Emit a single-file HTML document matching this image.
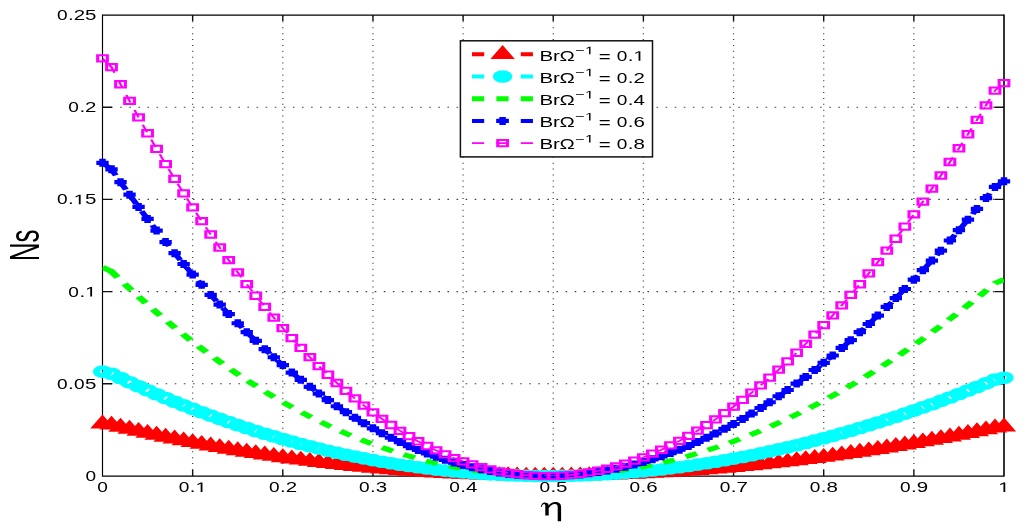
<!DOCTYPE html>
<html><head><meta charset="utf-8"><style>
html,body{margin:0;padding:0;background:#fff;width:1024px;height:531px;overflow:hidden}
svg{display:block;will-change:transform}
text{font-family:"Liberation Sans",sans-serif}
</style></head><body>
<svg width="1024" height="531" viewBox="0 0 1024 531">
<rect width="1024" height="531" fill="#fff"/>
<defs><path id="one" d="M515 0V1237L197 1010V1180L530 1409H696V0Z"/><clipPath id="cp"><rect x="66.43" y="15.00" width="584.25" height="461.00"/></clipPath></defs>
<g stroke="#444"><line x1="192.65" y1="475.40" x2="192.65" y2="15.00" stroke-width="1.3" stroke-dasharray="1 4.89" stroke-dashoffset="-5.39"/><line x1="282.80" y1="475.40" x2="282.80" y2="15.00" stroke-width="1.3" stroke-dasharray="1 4.89" stroke-dashoffset="-5.39"/><line x1="372.95" y1="475.40" x2="372.95" y2="15.00" stroke-width="1.3" stroke-dasharray="1 4.89" stroke-dashoffset="-5.39"/><line x1="463.10" y1="475.40" x2="463.10" y2="15.00" stroke-width="1.3" stroke-dasharray="1 4.89" stroke-dashoffset="-5.39"/><line x1="553.25" y1="475.40" x2="553.25" y2="15.00" stroke-width="1.3" stroke-dasharray="1 4.89" stroke-dashoffset="-5.39"/><line x1="643.40" y1="475.40" x2="643.40" y2="15.00" stroke-width="1.3" stroke-dasharray="1 4.89" stroke-dashoffset="-5.39"/><line x1="733.55" y1="475.40" x2="733.55" y2="15.00" stroke-width="1.3" stroke-dasharray="1 4.89" stroke-dashoffset="-5.39"/><line x1="823.70" y1="475.40" x2="823.70" y2="15.00" stroke-width="1.3" stroke-dasharray="1 4.89" stroke-dashoffset="-5.39"/><line x1="913.85" y1="475.40" x2="913.85" y2="15.00" stroke-width="1.3" stroke-dasharray="1 4.89" stroke-dashoffset="-5.39"/><line x1="102.0" y1="383.80" x2="1004.00" y2="383.80" stroke-width="1.1" stroke-dasharray="1.6 7.49" stroke-dashoffset="-9.09"/><line x1="102.0" y1="291.60" x2="1004.00" y2="291.60" stroke-width="1.1" stroke-dasharray="1.6 7.49" stroke-dashoffset="-9.09"/><line x1="102.0" y1="199.40" x2="1004.00" y2="199.40" stroke-width="1.1" stroke-dasharray="1.6 7.49" stroke-dashoffset="-9.09"/><line x1="102.0" y1="107.20" x2="1004.00" y2="107.20" stroke-width="1.1" stroke-dasharray="1.6 7.49" stroke-dashoffset="-9.09"/></g>
<g><path d="M102.5,15.0H1004.0M102.5,476.0H1004.0" stroke="#000" stroke-width="1.25"/><path d="M102.5,14.4V476.6" stroke="#000" stroke-width="1.15"/><path d="M1004.0,14.4V476.6" stroke="#000" stroke-width="1.6"/><path d="M192.65,476.00V470.00M192.65,15.00V21.00M282.80,476.00V470.00M282.80,15.00V21.00M372.95,476.00V470.00M372.95,15.00V21.00M463.10,476.00V470.00M463.10,15.00V21.00M553.25,476.00V470.00M553.25,15.00V21.00M643.40,476.00V470.00M643.40,15.00V21.00M733.55,476.00V470.00M733.55,15.00V21.00M823.70,476.00V470.00M823.70,15.00V21.00M913.85,476.00V470.00M913.85,15.00V21.00M102.50,383.80H112.00M1004.00,383.80H994.50M102.50,291.60H112.00M1004.00,291.60H994.50M102.50,199.40H112.00M1004.00,199.40H994.50M102.50,107.20H112.00M1004.00,107.20H994.50" stroke="#111" stroke-width="1.4" fill="none"/></g>
<g transform="scale(1.543,1)">
<path d="M66.43,423.81 L72.27,424.89 L78.11,427.03 L83.96,429.12 L89.80,431.16 L95.64,433.15 L101.48,435.10 L107.33,437.00 L113.17,438.86 L119.01,440.67 L124.85,442.43 L130.70,444.14 L136.54,445.81 L142.38,447.44 L148.22,449.01 L154.07,450.54 L159.91,452.03 L165.75,453.47 L171.59,454.86 L177.44,456.21 L183.28,457.51 L189.12,458.77 L194.96,459.98 L200.81,461.14 L206.65,462.26 L212.49,463.34 L218.33,464.37 L224.18,465.36 L230.02,466.30 L235.86,467.20 L241.70,468.05 L247.55,468.86 L253.39,469.63 L259.23,470.35 L265.07,471.02 L270.92,471.66 L276.76,472.25 L282.60,472.79 L288.44,473.30 L294.29,473.76 L300.13,474.17 L305.97,474.55 L311.81,474.88 L317.66,475.17 L323.50,475.41 L329.34,475.62 L335.18,475.78 L341.03,475.90 L346.87,475.97 L352.71,476.01 L358.55,476.00 L364.40,475.95 L370.24,475.86 L376.08,475.73 L381.92,475.56 L387.77,475.34 L393.61,475.09 L399.45,474.80 L405.29,474.46 L411.14,474.08 L416.98,473.67 L422.82,473.21 L428.66,472.72 L434.51,472.18 L440.35,471.61 L446.19,470.99 L452.03,470.34 L457.88,469.64 L463.72,468.91 L469.56,468.14 L475.41,467.33 L481.25,466.48 L487.09,465.60 L492.93,464.67 L498.78,463.71 L504.62,462.71 L510.46,461.67 L516.30,460.59 L522.15,459.48 L527.99,458.33 L533.83,457.14 L539.67,455.92 L545.52,454.66 L551.36,453.36 L557.20,452.03 L563.04,450.66 L568.89,449.26 L574.73,447.82 L580.57,446.34 L586.41,444.83 L592.26,443.28 L598.10,441.70 L603.94,440.09 L609.78,438.44 L615.63,436.75 L621.47,435.03 L627.31,433.28 L633.15,431.50 L639.00,429.68 L644.84,427.82 L650.68,426.88" fill="none" stroke="#ff0000" stroke-width="4.0" stroke-dasharray="7.875 7.875" stroke-dashoffset="8.250" clip-path="url(#cp)"/>
<path d="M66.43,423.81 L72.27,424.89" fill="none" stroke="#ff0000" stroke-width="4.0" clip-path="url(#cp)"/>
<g fill="#ff0000"><path d="M66.43,414.54L74.34,428.44L58.52,428.44Z"/><path d="M72.27,415.63L80.18,429.53L64.36,429.53Z"/><path d="M78.11,417.76L86.02,431.66L70.21,431.66Z"/><path d="M83.96,419.85L91.86,433.75L76.05,433.75Z"/><path d="M89.80,421.89L97.71,435.79L81.89,435.79Z"/><path d="M95.64,423.89L103.55,437.79L87.73,437.79Z"/><path d="M101.48,425.84L109.39,439.74L93.58,439.74Z"/><path d="M107.33,427.74L115.23,441.64L99.42,441.64Z"/><path d="M113.17,429.59L121.08,443.49L105.26,443.49Z"/><path d="M119.01,431.40L126.92,445.30L111.10,445.30Z"/><path d="M124.85,433.16L132.76,447.06L116.95,447.06Z"/><path d="M130.70,434.88L138.60,448.78L122.79,448.78Z"/><path d="M136.54,436.55L144.45,450.45L128.63,450.45Z"/><path d="M142.38,438.17L150.29,452.07L134.48,452.07Z"/><path d="M148.22,439.75L156.13,453.65L140.32,453.65Z"/><path d="M154.07,441.28L161.97,455.18L146.16,455.18Z"/><path d="M159.91,442.76L167.82,456.66L152.00,456.66Z"/><path d="M165.75,444.20L173.66,458.10L157.85,458.10Z"/><path d="M171.59,445.59L179.50,459.49L163.69,459.49Z"/><path d="M177.44,446.94L185.34,460.84L169.53,460.84Z"/><path d="M183.28,448.24L191.19,462.14L175.37,462.14Z"/><path d="M189.12,449.50L197.03,463.40L181.22,463.40Z"/><path d="M194.96,450.71L202.87,464.61L187.06,464.61Z"/><path d="M200.81,451.88L208.71,465.78L192.90,465.78Z"/><path d="M206.65,453.00L214.56,466.90L198.74,466.90Z"/><path d="M212.49,454.07L220.40,467.97L204.59,467.97Z"/><path d="M218.33,455.11L226.24,469.01L210.43,469.01Z"/><path d="M224.18,456.09L232.08,469.99L216.27,469.99Z"/><path d="M230.02,457.03L237.93,470.93L222.11,470.93Z"/><path d="M235.86,457.93L243.77,471.83L227.96,471.83Z"/><path d="M241.70,458.79L249.61,472.69L233.80,472.69Z"/><path d="M247.55,459.60L255.45,473.50L239.64,473.50Z"/><path d="M253.39,460.36L261.30,474.26L245.48,474.26Z"/><path d="M259.23,461.08L267.14,474.98L251.33,474.98Z"/><path d="M265.07,461.76L272.98,475.66L257.17,475.66Z"/><path d="M270.92,462.39L278.82,476.29L263.01,476.29Z"/><path d="M276.76,462.98L284.67,476.88L268.85,476.88Z"/><path d="M282.60,463.53L290.51,477.43L274.70,477.43Z"/><path d="M288.44,464.03L296.35,477.93L280.54,477.93Z"/><path d="M294.29,464.49L302.19,478.39L286.38,478.39Z"/><path d="M300.13,464.91L308.04,478.81L292.22,478.81Z"/><path d="M305.97,465.28L313.88,479.18L298.07,479.18Z"/><path d="M311.81,465.61L319.72,479.51L303.91,479.51Z"/><path d="M317.66,465.90L325.56,479.80L309.75,479.80Z"/><path d="M323.50,466.15L331.41,480.05L315.59,480.05Z"/><path d="M329.34,466.35L337.25,480.25L321.44,480.25Z"/><path d="M335.18,466.51L343.09,480.41L327.28,480.41Z"/><path d="M341.03,466.63L348.93,480.53L333.12,480.53Z"/><path d="M346.87,466.71L354.78,480.61L338.96,480.61Z"/><path d="M352.71,466.74L360.62,480.64L344.81,480.64Z"/><path d="M358.55,466.73L366.46,480.63L350.65,480.63Z"/><path d="M364.40,466.68L372.30,480.58L356.49,480.58Z"/><path d="M370.24,466.60L378.15,480.50L362.33,480.50Z"/><path d="M376.08,466.46L383.99,480.36L368.18,480.36Z"/><path d="M381.92,466.29L389.83,480.19L374.02,480.19Z"/><path d="M387.77,466.08L395.67,479.98L379.86,479.98Z"/><path d="M393.61,465.82L401.52,479.72L385.70,479.72Z"/><path d="M399.45,465.53L407.36,479.43L391.55,479.43Z"/><path d="M405.29,465.19L413.20,479.09L397.39,479.09Z"/><path d="M411.14,464.82L419.04,478.72L403.23,478.72Z"/><path d="M416.98,464.40L424.89,478.30L409.07,478.30Z"/><path d="M422.82,463.95L430.73,477.85L414.92,477.85Z"/><path d="M428.66,463.45L436.57,477.35L420.76,477.35Z"/><path d="M434.51,462.91L442.41,476.81L426.60,476.81Z"/><path d="M440.35,462.34L448.26,476.24L432.44,476.24Z"/><path d="M446.19,461.72L454.10,475.62L438.29,475.62Z"/><path d="M452.03,461.07L459.94,474.97L444.13,474.97Z"/><path d="M457.88,460.38L465.78,474.28L449.97,474.28Z"/><path d="M463.72,459.64L471.63,473.54L455.81,473.54Z"/><path d="M469.56,458.87L477.47,472.77L461.66,472.77Z"/><path d="M475.41,458.06L483.31,471.96L467.50,471.96Z"/><path d="M481.25,457.21L489.15,471.11L473.34,471.11Z"/><path d="M487.09,456.33L495.00,470.23L479.18,470.23Z"/><path d="M492.93,455.40L500.84,469.30L485.03,469.30Z"/><path d="M498.78,454.44L506.68,468.34L490.87,468.34Z"/><path d="M504.62,453.44L512.52,467.34L496.71,467.34Z"/><path d="M510.46,452.40L518.37,466.30L502.55,466.30Z"/><path d="M516.30,451.33L524.21,465.23L508.40,465.23Z"/><path d="M522.15,450.21L530.05,464.11L514.24,464.11Z"/><path d="M527.99,449.06L535.89,462.96L520.08,462.96Z"/><path d="M533.83,447.88L541.74,461.78L525.92,461.78Z"/><path d="M539.67,446.65L547.58,460.55L531.77,460.55Z"/><path d="M545.52,445.39L553.42,459.29L537.61,459.29Z"/><path d="M551.36,444.10L559.26,458.00L543.45,458.00Z"/><path d="M557.20,442.76L565.11,456.66L549.29,456.66Z"/><path d="M563.04,441.40L570.95,455.30L555.14,455.30Z"/><path d="M568.89,439.99L576.79,453.89L560.98,453.89Z"/><path d="M574.73,438.55L582.63,452.45L566.82,452.45Z"/><path d="M580.57,437.08L588.48,450.98L572.66,450.98Z"/><path d="M586.41,435.56L594.32,449.46L578.51,449.46Z"/><path d="M592.26,434.02L600.16,447.92L584.35,447.92Z"/><path d="M598.10,432.44L606.00,446.34L590.19,446.34Z"/><path d="M603.94,430.82L611.85,444.72L596.03,444.72Z"/><path d="M609.78,429.17L617.69,443.07L601.88,443.07Z"/><path d="M615.63,427.49L623.53,441.39L607.72,441.39Z"/><path d="M621.47,425.77L629.37,439.67L613.56,439.67Z"/><path d="M627.31,424.02L635.22,437.92L619.40,437.92Z"/><path d="M633.15,422.23L641.06,436.13L625.25,436.13Z"/><path d="M639.00,420.41L646.90,434.31L631.09,434.31Z"/><path d="M644.84,418.56L652.74,432.46L636.93,432.46Z"/><path d="M650.68,417.62L658.59,431.52L642.77,431.52Z"/></g>
<path d="M66.43,371.61 L72.27,373.78 L78.11,378.06 L83.96,382.24 L89.80,386.32 L95.64,390.31 L101.48,394.21 L107.33,398.01 L113.17,401.72 L119.01,405.34 L124.85,408.86 L130.70,412.29 L136.54,415.63 L142.38,418.87 L148.22,422.03 L154.07,425.09 L159.91,428.06 L165.75,430.93 L171.59,433.72 L177.44,436.41 L183.28,439.02 L189.12,441.53 L194.96,443.95 L200.81,446.29 L206.65,448.53 L212.49,450.68 L218.33,452.75 L224.18,454.72 L230.02,456.60 L235.86,458.40 L241.70,460.11 L247.55,461.72 L253.39,463.25 L259.23,464.70 L265.07,466.05 L270.92,467.32 L276.76,468.50 L282.60,469.59 L288.44,470.60 L294.29,471.51 L300.13,472.35 L305.97,473.10 L311.81,473.76 L317.66,474.33 L323.50,474.82 L329.34,475.23 L335.18,475.55 L341.03,475.79 L346.87,475.94 L352.71,476.01 L358.55,476.00 L364.40,475.90 L370.24,475.72 L376.08,475.46 L381.92,475.12 L387.77,474.69 L393.61,474.18 L399.45,473.59 L405.29,472.92 L411.14,472.17 L416.98,471.34 L422.82,470.43 L428.66,469.43 L434.51,468.36 L440.35,467.21 L446.19,465.98 L452.03,464.67 L457.88,463.29 L463.72,461.82 L469.56,460.28 L475.41,458.66 L481.25,456.96 L487.09,455.19 L492.93,453.34 L498.78,451.42 L504.62,449.41 L510.46,447.34 L516.30,445.19 L522.15,442.96 L527.99,440.66 L533.83,438.29 L539.67,435.84 L545.52,433.32 L551.36,430.73 L557.20,428.06 L563.04,425.33 L568.89,422.52 L574.73,419.64 L580.57,416.68 L586.41,413.66 L592.26,410.57 L598.10,407.41 L603.94,404.18 L609.78,400.88 L615.63,397.51 L621.47,394.07 L627.31,390.56 L633.15,386.99 L639.00,383.35 L644.84,379.64 L650.68,377.77" fill="none" stroke="#00ffff" stroke-width="4.0" stroke-dasharray="7.875 7.875" stroke-dashoffset="8.250" clip-path="url(#cp)"/>
<path d="M66.43,371.61 L72.27,373.78" fill="none" stroke="#00ffff" stroke-width="4.0" clip-path="url(#cp)"/>
<g fill="none" stroke="#00ffff" stroke-width="4.6"><circle cx="66.43" cy="371.61" r="4.0"/><circle cx="72.27" cy="373.78" r="4.0"/><circle cx="78.11" cy="378.06" r="4.0"/><circle cx="83.96" cy="382.24" r="4.0"/><circle cx="89.80" cy="386.32" r="4.0"/><circle cx="95.64" cy="390.31" r="4.0"/><circle cx="101.48" cy="394.21" r="4.0"/><circle cx="107.33" cy="398.01" r="4.0"/><circle cx="113.17" cy="401.72" r="4.0"/><circle cx="119.01" cy="405.34" r="4.0"/><circle cx="124.85" cy="408.86" r="4.0"/><circle cx="130.70" cy="412.29" r="4.0"/><circle cx="136.54" cy="415.63" r="4.0"/><circle cx="142.38" cy="418.87" r="4.0"/><circle cx="148.22" cy="422.03" r="4.0"/><circle cx="154.07" cy="425.09" r="4.0"/><circle cx="159.91" cy="428.06" r="4.0"/><circle cx="165.75" cy="430.93" r="4.0"/><circle cx="171.59" cy="433.72" r="4.0"/><circle cx="177.44" cy="436.41" r="4.0"/><circle cx="183.28" cy="439.02" r="4.0"/><circle cx="189.12" cy="441.53" r="4.0"/><circle cx="194.96" cy="443.95" r="4.0"/><circle cx="200.81" cy="446.29" r="4.0"/><circle cx="206.65" cy="448.53" r="4.0"/><circle cx="212.49" cy="450.68" r="4.0"/><circle cx="218.33" cy="452.75" r="4.0"/><circle cx="224.18" cy="454.72" r="4.0"/><circle cx="230.02" cy="456.60" r="4.0"/><circle cx="235.86" cy="458.40" r="4.0"/><circle cx="241.70" cy="460.11" r="4.0"/><circle cx="247.55" cy="461.72" r="4.0"/><circle cx="253.39" cy="463.25" r="4.0"/><circle cx="259.23" cy="464.70" r="4.0"/><circle cx="265.07" cy="466.05" r="4.0"/><circle cx="270.92" cy="467.32" r="4.0"/><circle cx="276.76" cy="468.50" r="4.0"/><circle cx="282.60" cy="469.59" r="4.0"/><circle cx="288.44" cy="470.60" r="4.0"/><circle cx="294.29" cy="471.51" r="4.0"/><circle cx="300.13" cy="472.35" r="4.0"/><circle cx="305.97" cy="473.10" r="4.0"/><circle cx="311.81" cy="473.76" r="4.0"/><circle cx="317.66" cy="474.33" r="4.0"/><circle cx="323.50" cy="474.82" r="4.0"/><circle cx="329.34" cy="475.23" r="4.0"/><circle cx="335.18" cy="475.55" r="4.0"/><circle cx="341.03" cy="475.79" r="4.0"/><circle cx="346.87" cy="475.94" r="4.0"/><circle cx="352.71" cy="476.01" r="4.0"/><circle cx="358.55" cy="476.00" r="4.0"/><circle cx="364.40" cy="475.90" r="4.0"/><circle cx="370.24" cy="475.72" r="4.0"/><circle cx="376.08" cy="475.46" r="4.0"/><circle cx="381.92" cy="475.12" r="4.0"/><circle cx="387.77" cy="474.69" r="4.0"/><circle cx="393.61" cy="474.18" r="4.0"/><circle cx="399.45" cy="473.59" r="4.0"/><circle cx="405.29" cy="472.92" r="4.0"/><circle cx="411.14" cy="472.17" r="4.0"/><circle cx="416.98" cy="471.34" r="4.0"/><circle cx="422.82" cy="470.43" r="4.0"/><circle cx="428.66" cy="469.43" r="4.0"/><circle cx="434.51" cy="468.36" r="4.0"/><circle cx="440.35" cy="467.21" r="4.0"/><circle cx="446.19" cy="465.98" r="4.0"/><circle cx="452.03" cy="464.67" r="4.0"/><circle cx="457.88" cy="463.29" r="4.0"/><circle cx="463.72" cy="461.82" r="4.0"/><circle cx="469.56" cy="460.28" r="4.0"/><circle cx="475.41" cy="458.66" r="4.0"/><circle cx="481.25" cy="456.96" r="4.0"/><circle cx="487.09" cy="455.19" r="4.0"/><circle cx="492.93" cy="453.34" r="4.0"/><circle cx="498.78" cy="451.42" r="4.0"/><circle cx="504.62" cy="449.41" r="4.0"/><circle cx="510.46" cy="447.34" r="4.0"/><circle cx="516.30" cy="445.19" r="4.0"/><circle cx="522.15" cy="442.96" r="4.0"/><circle cx="527.99" cy="440.66" r="4.0"/><circle cx="533.83" cy="438.29" r="4.0"/><circle cx="539.67" cy="435.84" r="4.0"/><circle cx="545.52" cy="433.32" r="4.0"/><circle cx="551.36" cy="430.73" r="4.0"/><circle cx="557.20" cy="428.06" r="4.0"/><circle cx="563.04" cy="425.33" r="4.0"/><circle cx="568.89" cy="422.52" r="4.0"/><circle cx="574.73" cy="419.64" r="4.0"/><circle cx="580.57" cy="416.68" r="4.0"/><circle cx="586.41" cy="413.66" r="4.0"/><circle cx="592.26" cy="410.57" r="4.0"/><circle cx="598.10" cy="407.41" r="4.0"/><circle cx="603.94" cy="404.18" r="4.0"/><circle cx="609.78" cy="400.88" r="4.0"/><circle cx="615.63" cy="397.51" r="4.0"/><circle cx="621.47" cy="394.07" r="4.0"/><circle cx="627.31" cy="390.56" r="4.0"/><circle cx="633.15" cy="386.99" r="4.0"/><circle cx="639.00" cy="383.35" r="4.0"/><circle cx="644.84" cy="379.64" r="4.0"/><circle cx="650.68" cy="377.77" r="4.0"/></g>
<path d="M66.43,267.22 L72.27,271.57 L78.11,280.11 L83.96,288.47 L89.80,296.64 L95.64,304.62 L101.48,312.41 L107.33,320.02 L113.17,327.44 L119.01,334.67 L124.85,341.72 L130.70,348.58 L136.54,355.25 L142.38,361.74 L148.22,368.05 L154.07,374.17 L159.91,380.11 L165.75,385.87 L171.59,391.44 L177.44,396.83 L183.28,402.04 L189.12,407.06 L194.96,411.91 L200.81,416.57 L206.65,421.06 L212.49,425.36 L218.33,429.49 L224.18,433.44 L230.02,437.21 L235.86,440.80 L241.70,444.21 L247.55,447.45 L253.39,450.51 L259.23,453.39 L265.07,456.10 L270.92,458.63 L276.76,460.99 L282.60,463.18 L288.44,465.19 L294.29,467.03 L300.13,468.70 L305.97,470.19 L311.81,471.51 L317.66,472.67 L323.50,473.65 L329.34,474.46 L335.18,475.11 L341.03,475.58 L346.87,475.89 L352.71,476.03 L358.55,476.00 L364.40,475.81 L370.24,475.45 L376.08,474.92 L381.92,474.23 L387.77,473.38 L393.61,472.36 L399.45,471.18 L405.29,469.84 L411.14,468.34 L416.98,466.67 L422.82,464.85 L428.66,462.87 L434.51,460.72 L440.35,458.42 L446.19,455.96 L452.03,453.34 L457.88,450.57 L463.72,447.64 L469.56,444.56 L475.41,441.32 L481.25,437.93 L487.09,434.38 L492.93,430.68 L498.78,426.83 L504.62,422.83 L510.46,418.68 L516.30,414.38 L522.15,409.92 L527.99,405.32 L533.83,400.58 L539.67,395.68 L545.52,390.64 L551.36,385.46 L557.20,380.13 L563.04,374.65 L568.89,369.03 L574.73,363.27 L580.57,357.37 L586.41,351.32 L592.26,345.14 L598.10,338.82 L603.94,332.35 L609.78,325.75 L615.63,319.01 L621.47,312.14 L627.31,305.13 L633.15,297.98 L639.00,290.70 L644.84,283.29 L650.68,279.53" fill="none" stroke="#00ff00" stroke-width="4.9" stroke-dasharray="7.862 7.862" stroke-dashoffset="9.325" clip-path="url(#cp)"/>
<path d="M66.43,267.22 L72.27,271.57" fill="none" stroke="#00ff00" stroke-width="4.9" clip-path="url(#cp)"/>
<path d="M66.43,162.84 L72.27,169.35 L78.11,182.17 L83.96,194.71 L89.80,206.96 L95.64,218.93 L101.48,230.62 L107.33,242.03 L113.17,253.16 L119.01,264.01 L124.85,274.58 L130.70,284.87 L136.54,294.88 L142.38,304.62 L148.22,314.08 L154.07,323.26 L159.91,332.17 L165.75,340.80 L171.59,349.16 L177.44,357.24 L183.28,365.06 L189.12,372.60 L194.96,379.86 L200.81,386.86 L206.65,393.59 L212.49,400.05 L218.33,406.24 L224.18,412.16 L230.02,417.81 L235.86,423.20 L241.70,428.32 L247.55,433.17 L253.39,437.76 L259.23,442.09 L265.07,446.15 L270.92,449.95 L276.76,453.49 L282.60,456.77 L288.44,459.79 L294.29,462.54 L300.13,465.04 L305.97,467.29 L311.81,469.27 L317.66,471.00 L323.50,472.47 L329.34,473.69 L335.18,474.66 L341.03,475.37 L346.87,475.83 L352.71,476.04 L358.55,476.00 L364.40,475.71 L370.24,475.17 L376.08,474.38 L381.92,473.35 L387.77,472.07 L393.61,470.54 L399.45,468.78 L405.29,466.76 L411.14,464.51 L416.98,462.01 L422.82,459.28 L428.66,456.30 L434.51,453.08 L440.35,449.63 L446.19,445.94 L452.03,442.02 L457.88,437.86 L463.72,433.46 L469.56,428.84 L475.41,423.98 L481.25,418.89 L487.09,413.57 L492.93,408.02 L498.78,402.25 L504.62,396.24 L510.46,390.02 L516.30,383.56 L522.15,376.89 L527.99,369.99 L533.83,362.87 L539.67,355.52 L545.52,347.96 L551.36,340.18 L557.20,332.19 L563.04,323.98 L568.89,315.55 L574.73,306.91 L580.57,298.05 L586.41,288.99 L592.26,279.71 L598.10,270.22 L603.94,260.53 L609.78,250.63 L615.63,240.52 L621.47,230.21 L627.31,219.69 L633.15,208.97 L639.00,198.05 L644.84,186.93 L650.68,181.30" fill="none" stroke="#0000ff" stroke-width="4.0" stroke-dasharray="7.875 7.875" stroke-dashoffset="8.250" clip-path="url(#cp)"/>
<path d="M66.43,162.84 L72.27,169.35" fill="none" stroke="#0000ff" stroke-width="4.0" clip-path="url(#cp)"/>
<path fill="none" stroke="#0000ff" stroke-width="4.2" d="M62.43,162.84H70.43M66.43,158.84V166.84M68.27,169.35H76.27M72.27,165.35V173.35M74.11,182.17H82.11M78.11,178.17V186.17M79.96,194.71H87.96M83.96,190.71V198.71M85.80,206.96H93.80M89.80,202.96V210.96M91.64,218.93H99.64M95.64,214.93V222.93M97.48,230.62H105.48M101.48,226.62V234.62M103.33,242.03H111.33M107.33,238.03V246.03M109.17,253.16H117.17M113.17,249.16V257.16M115.01,264.01H123.01M119.01,260.01V268.01M120.85,274.58H128.85M124.85,270.58V278.58M126.70,284.87H134.70M130.70,280.87V288.87M132.54,294.88H140.54M136.54,290.88V298.88M138.38,304.62H146.38M142.38,300.62V308.62M144.22,314.08H152.22M148.22,310.08V318.08M150.07,323.26H158.07M154.07,319.26V327.26M155.91,332.17H163.91M159.91,328.17V336.17M161.75,340.80H169.75M165.75,336.80V344.80M167.59,349.16H175.59M171.59,345.16V353.16M173.44,357.24H181.44M177.44,353.24V361.24M179.28,365.06H187.28M183.28,361.06V369.06M185.12,372.60H193.12M189.12,368.60V376.60M190.96,379.86H198.96M194.96,375.86V383.86M196.81,386.86H204.81M200.81,382.86V390.86M202.65,393.59H210.65M206.65,389.59V397.59M208.49,400.05H216.49M212.49,396.05V404.05M214.33,406.24H222.33M218.33,402.24V410.24M220.18,412.16H228.18M224.18,408.16V416.16M226.02,417.81H234.02M230.02,413.81V421.81M231.86,423.20H239.86M235.86,419.20V427.20M237.70,428.32H245.70M241.70,424.32V432.32M243.55,433.17H251.55M247.55,429.17V437.17M249.39,437.76H257.39M253.39,433.76V441.76M255.23,442.09H263.23M259.23,438.09V446.09M261.07,446.15H269.07M265.07,442.15V450.15M266.92,449.95H274.92M270.92,445.95V453.95M272.76,453.49H280.76M276.76,449.49V457.49M278.60,456.77H286.60M282.60,452.77V460.77M284.44,459.79H292.44M288.44,455.79V463.79M290.29,462.54H298.29M294.29,458.54V466.54M296.13,465.04H304.13M300.13,461.04V469.04M301.97,467.29H309.97M305.97,463.29V471.29M307.81,469.27H315.81M311.81,465.27V473.27M313.66,471.00H321.66M317.66,467.00V475.00M319.50,472.47H327.50M323.50,468.47V476.47M325.34,473.69H333.34M329.34,469.69V477.69M331.18,474.66H339.18M335.18,470.66V478.66M337.03,475.37H345.03M341.03,471.37V479.37M342.87,475.83H350.87M346.87,471.83V479.83M348.71,476.04H356.71M352.71,472.04V480.04M354.55,476.00H362.55M358.55,472.00V480.00M360.40,475.71H368.40M364.40,471.71V479.71M366.24,475.17H374.24M370.24,471.17V479.17M372.08,474.38H380.08M376.08,470.38V478.38M377.92,473.35H385.92M381.92,469.35V477.35M383.77,472.07H391.77M387.77,468.07V476.07M389.61,470.54H397.61M393.61,466.54V474.54M395.45,468.78H403.45M399.45,464.78V472.78M401.29,466.76H409.29M405.29,462.76V470.76M407.14,464.51H415.14M411.14,460.51V468.51M412.98,462.01H420.98M416.98,458.01V466.01M418.82,459.28H426.82M422.82,455.28V463.28M424.66,456.30H432.66M428.66,452.30V460.30M430.51,453.08H438.51M434.51,449.08V457.08M436.35,449.63H444.35M440.35,445.63V453.63M442.19,445.94H450.19M446.19,441.94V449.94M448.03,442.02H456.03M452.03,438.02V446.02M453.88,437.86H461.88M457.88,433.86V441.86M459.72,433.46H467.72M463.72,429.46V437.46M465.56,428.84H473.56M469.56,424.84V432.84M471.41,423.98H479.41M475.41,419.98V427.98M477.25,418.89H485.25M481.25,414.89V422.89M483.09,413.57H491.09M487.09,409.57V417.57M488.93,408.02H496.93M492.93,404.02V412.02M494.78,402.25H502.78M498.78,398.25V406.25M500.62,396.24H508.62M504.62,392.24V400.24M506.46,390.02H514.46M510.46,386.02V394.02M512.30,383.56H520.30M516.30,379.56V387.56M518.15,376.89H526.15M522.15,372.89V380.89M523.99,369.99H531.99M527.99,365.99V373.99M529.83,362.87H537.83M533.83,358.87V366.87M535.67,355.52H543.67M539.67,351.52V359.52M541.52,347.96H549.52M545.52,343.96V351.96M547.36,340.18H555.36M551.36,336.18V344.18M553.20,332.19H561.20M557.20,328.19V336.19M559.04,323.98H567.04M563.04,319.98V327.98M564.89,315.55H572.89M568.89,311.55V319.55M570.73,306.91H578.73M574.73,302.91V310.91M576.57,298.05H584.57M580.57,294.05V302.05M582.41,288.99H590.41M586.41,284.99V292.99M588.26,279.71H596.26M592.26,275.71V283.71M594.10,270.22H602.10M598.10,266.22V274.22M599.94,260.53H607.94M603.94,256.53V264.53M605.78,250.63H613.78M609.78,246.63V254.63M611.63,240.52H619.63M615.63,236.52V244.52M617.47,230.21H625.47M621.47,226.21V234.21M623.31,219.69H631.31M627.31,215.69V223.69M629.15,208.97H637.15M633.15,204.97V212.97M635.00,198.05H643.00M639.00,194.05V202.05M640.84,186.93H648.84M644.84,182.93V190.93M646.68,181.30H654.68M650.68,177.30V185.30"/>
<path d="M66.43,58.45 L72.27,67.14 L78.11,84.23 L83.96,100.94 L89.80,117.28 L95.64,133.24 L101.48,148.83 L107.33,164.04 L113.17,178.87 L119.01,193.34 L124.85,207.43 L130.70,221.16 L136.54,234.51 L142.38,247.49 L148.22,260.10 L154.07,272.35 L159.91,284.22 L165.75,295.73 L171.59,306.88 L177.44,317.66 L183.28,328.08 L189.12,338.13 L194.96,347.82 L200.81,357.15 L206.65,366.12 L212.49,374.73 L218.33,382.98 L224.18,390.88 L230.02,398.41 L235.86,405.59 L241.70,412.42 L247.55,418.89 L253.39,425.01 L259.23,430.78 L265.07,436.20 L270.92,441.27 L276.76,445.99 L282.60,450.36 L288.44,454.38 L294.29,458.06 L300.13,461.39 L305.97,464.38 L311.81,467.03 L317.66,469.33 L323.50,471.30 L329.34,472.92 L335.18,474.21 L341.03,475.16 L346.87,475.78 L352.71,476.05 L358.55,476.00 L364.40,475.61 L370.24,474.89 L376.08,473.84 L381.92,472.47 L387.77,470.76 L393.61,468.73 L399.45,466.37 L405.29,463.68 L411.14,460.68 L416.98,457.35 L422.82,453.70 L428.66,449.73 L434.51,445.45 L440.35,440.84 L446.19,435.92 L452.03,430.69 L457.88,425.14 L463.72,419.29 L469.56,413.12 L475.41,406.64 L481.25,399.85 L487.09,392.76 L492.93,385.36 L498.78,377.66 L504.62,369.66 L510.46,361.35 L516.30,352.75 L522.15,343.85 L527.99,334.65 L533.83,325.15 L539.67,315.37 L545.52,305.28 L551.36,294.91 L557.20,284.25 L563.04,273.30 L568.89,262.06 L574.73,250.54 L580.57,238.74 L586.41,226.65 L592.26,214.28 L598.10,201.63 L603.94,188.70 L609.78,175.50 L615.63,162.02 L621.47,148.27 L627.31,134.25 L633.15,119.96 L639.00,105.40 L644.84,90.58 L650.68,83.06" fill="none" stroke="#ff00ff" stroke-width="1.6" stroke-dasharray="7.884 7.884" stroke-dashoffset="7.268" clip-path="url(#cp)"/>
<path d="M66.43,58.45 L72.27,67.14" fill="none" stroke="#ff00ff" stroke-width="1.6" clip-path="url(#cp)"/>
<path fill="none" stroke="#ff00ff" stroke-width="2.0" d="M63.28,55.30h6.3v6.3h-6.3zM69.12,63.99h6.3v6.3h-6.3zM74.96,81.08h6.3v6.3h-6.3zM80.81,97.79h6.3v6.3h-6.3zM86.65,114.13h6.3v6.3h-6.3zM92.49,130.09h6.3v6.3h-6.3zM98.33,145.68h6.3v6.3h-6.3zM104.18,160.89h6.3v6.3h-6.3zM110.02,175.72h6.3v6.3h-6.3zM115.86,190.19h6.3v6.3h-6.3zM121.70,204.28h6.3v6.3h-6.3zM127.55,218.01h6.3v6.3h-6.3zM133.39,231.36h6.3v6.3h-6.3zM139.23,244.34h6.3v6.3h-6.3zM145.07,256.95h6.3v6.3h-6.3zM150.92,269.20h6.3v6.3h-6.3zM156.76,281.07h6.3v6.3h-6.3zM162.60,292.58h6.3v6.3h-6.3zM168.44,303.73h6.3v6.3h-6.3zM174.29,314.51h6.3v6.3h-6.3zM180.13,324.93h6.3v6.3h-6.3zM185.97,334.98h6.3v6.3h-6.3zM191.81,344.67h6.3v6.3h-6.3zM197.66,354.00h6.3v6.3h-6.3zM203.50,362.97h6.3v6.3h-6.3zM209.34,371.58h6.3v6.3h-6.3zM215.18,379.83h6.3v6.3h-6.3zM221.03,387.73h6.3v6.3h-6.3zM226.87,395.26h6.3v6.3h-6.3zM232.71,402.44h6.3v6.3h-6.3zM238.55,409.27h6.3v6.3h-6.3zM244.40,415.74h6.3v6.3h-6.3zM250.24,421.86h6.3v6.3h-6.3zM256.08,427.63h6.3v6.3h-6.3zM261.92,433.05h6.3v6.3h-6.3zM267.77,438.12h6.3v6.3h-6.3zM273.61,442.84h6.3v6.3h-6.3zM279.45,447.21h6.3v6.3h-6.3zM285.29,451.23h6.3v6.3h-6.3zM291.14,454.91h6.3v6.3h-6.3zM296.98,458.24h6.3v6.3h-6.3zM302.82,461.23h6.3v6.3h-6.3zM308.66,463.88h6.3v6.3h-6.3zM314.51,466.18h6.3v6.3h-6.3zM320.35,468.15h6.3v6.3h-6.3zM326.19,469.77h6.3v6.3h-6.3zM332.03,471.06h6.3v6.3h-6.3zM337.88,472.01h6.3v6.3h-6.3zM343.72,472.63h6.3v6.3h-6.3zM349.56,472.90h6.3v6.3h-6.3zM355.40,472.85h6.3v6.3h-6.3zM361.25,472.46h6.3v6.3h-6.3zM367.09,471.74h6.3v6.3h-6.3zM372.93,470.69h6.3v6.3h-6.3zM378.77,469.32h6.3v6.3h-6.3zM384.62,467.61h6.3v6.3h-6.3zM390.46,465.58h6.3v6.3h-6.3zM396.30,463.22h6.3v6.3h-6.3zM402.14,460.53h6.3v6.3h-6.3zM407.99,457.53h6.3v6.3h-6.3zM413.83,454.20h6.3v6.3h-6.3zM419.67,450.55h6.3v6.3h-6.3zM425.51,446.58h6.3v6.3h-6.3zM431.36,442.30h6.3v6.3h-6.3zM437.20,437.69h6.3v6.3h-6.3zM443.04,432.77h6.3v6.3h-6.3zM448.88,427.54h6.3v6.3h-6.3zM454.73,421.99h6.3v6.3h-6.3zM460.57,416.14h6.3v6.3h-6.3zM466.41,409.97h6.3v6.3h-6.3zM472.26,403.49h6.3v6.3h-6.3zM478.10,396.70h6.3v6.3h-6.3zM483.94,389.61h6.3v6.3h-6.3zM489.78,382.21h6.3v6.3h-6.3zM495.63,374.51h6.3v6.3h-6.3zM501.47,366.51h6.3v6.3h-6.3zM507.31,358.20h6.3v6.3h-6.3zM513.15,349.60h6.3v6.3h-6.3zM519.00,340.70h6.3v6.3h-6.3zM524.84,331.50h6.3v6.3h-6.3zM530.68,322.00h6.3v6.3h-6.3zM536.52,312.22h6.3v6.3h-6.3zM542.37,302.13h6.3v6.3h-6.3zM548.21,291.76h6.3v6.3h-6.3zM554.05,281.10h6.3v6.3h-6.3zM559.89,270.15h6.3v6.3h-6.3zM565.74,258.91h6.3v6.3h-6.3zM571.58,247.39h6.3v6.3h-6.3zM577.42,235.59h6.3v6.3h-6.3zM583.26,223.50h6.3v6.3h-6.3zM589.11,211.13h6.3v6.3h-6.3zM594.95,198.48h6.3v6.3h-6.3zM600.79,185.55h6.3v6.3h-6.3zM606.63,172.35h6.3v6.3h-6.3zM612.48,158.87h6.3v6.3h-6.3zM618.32,145.12h6.3v6.3h-6.3zM624.16,131.10h6.3v6.3h-6.3zM630.00,116.81h6.3v6.3h-6.3zM635.85,102.25h6.3v6.3h-6.3zM641.69,87.43h6.3v6.3h-6.3zM647.53,79.91h6.3v6.3h-6.3z"/>
</g>
<g fill="#000"><text transform="translate(97.19,492.00) scale(1.3829,1)" font-size="13.8">0</text><text transform="translate(178.79,492.00) scale(1.3829,1)" font-size="13.8">0</text><text transform="translate(189.80,492.00) scale(1.4870,1)" font-size="13.8">.</text><use href="#one" transform="translate(195.50,492.00) scale(0.01002,-0.00674)"/><text transform="translate(268.94,492.00) scale(1.3829,1)" font-size="13.8">0</text><text transform="translate(279.95,492.00) scale(1.4870,1)" font-size="13.8">.</text><text transform="translate(285.65,492.00) scale(1.4870,1)" font-size="13.8">2</text><text transform="translate(359.09,492.00) scale(1.3829,1)" font-size="13.8">0</text><text transform="translate(370.10,492.00) scale(1.4870,1)" font-size="13.8">.</text><text transform="translate(375.80,492.00) scale(1.4870,1)" font-size="13.8">3</text><text transform="translate(449.24,492.00) scale(1.3829,1)" font-size="13.8">0</text><text transform="translate(460.25,492.00) scale(1.4870,1)" font-size="13.8">.</text><text transform="translate(465.95,492.00) scale(1.4870,1)" font-size="13.8">4</text><text transform="translate(539.39,492.00) scale(1.3829,1)" font-size="13.8">0</text><text transform="translate(550.40,492.00) scale(1.4870,1)" font-size="13.8">.</text><text transform="translate(556.10,492.00) scale(1.4870,1)" font-size="13.8">5</text><text transform="translate(629.54,492.00) scale(1.3829,1)" font-size="13.8">0</text><text transform="translate(640.55,492.00) scale(1.4870,1)" font-size="13.8">.</text><text transform="translate(646.25,492.00) scale(1.4870,1)" font-size="13.8">6</text><text transform="translate(719.69,492.00) scale(1.3829,1)" font-size="13.8">0</text><text transform="translate(730.70,492.00) scale(1.4870,1)" font-size="13.8">.</text><text transform="translate(736.40,492.00) scale(1.4870,1)" font-size="13.8">7</text><text transform="translate(809.84,492.00) scale(1.3829,1)" font-size="13.8">0</text><text transform="translate(820.85,492.00) scale(1.4870,1)" font-size="13.8">.</text><text transform="translate(826.55,492.00) scale(1.4870,1)" font-size="13.8">8</text><text transform="translate(899.99,492.00) scale(1.3829,1)" font-size="13.8">0</text><text transform="translate(911.00,492.00) scale(1.4870,1)" font-size="13.8">.</text><text transform="translate(916.70,492.00) scale(1.4870,1)" font-size="13.8">9</text><use href="#one" transform="translate(998.29,492.00) scale(0.01002,-0.00674)"/><text transform="translate(85.49,480.90) scale(1.3829,1)" font-size="13.8">0</text><text transform="translate(56.96,388.70) scale(1.3829,1)" font-size="13.8">0</text><text transform="translate(67.97,388.70) scale(1.4870,1)" font-size="13.8">.</text><text transform="translate(74.07,388.70) scale(1.3829,1)" font-size="13.8">0</text><text transform="translate(85.09,388.70) scale(1.4870,1)" font-size="13.8">5</text><text transform="translate(68.37,296.50) scale(1.3829,1)" font-size="13.8">0</text><text transform="translate(79.39,296.50) scale(1.4870,1)" font-size="13.8">.</text><use href="#one" transform="translate(85.09,296.50) scale(0.01002,-0.00674)"/><text transform="translate(56.96,204.30) scale(1.3829,1)" font-size="13.8">0</text><text transform="translate(67.97,204.30) scale(1.4870,1)" font-size="13.8">.</text><use href="#one" transform="translate(73.67,204.30) scale(0.01002,-0.00674)"/><text transform="translate(85.09,204.30) scale(1.4870,1)" font-size="13.8">5</text><text transform="translate(68.37,112.10) scale(1.3829,1)" font-size="13.8">0</text><text transform="translate(79.39,112.10) scale(1.4870,1)" font-size="13.8">.</text><text transform="translate(85.09,112.10) scale(1.4870,1)" font-size="13.8">2</text><text transform="translate(56.96,19.90) scale(1.3829,1)" font-size="13.8">0</text><text transform="translate(67.97,19.90) scale(1.4870,1)" font-size="13.8">.</text><text transform="translate(73.67,19.90) scale(1.4870,1)" font-size="13.8">2</text><text transform="translate(85.09,19.90) scale(1.4870,1)" font-size="13.8">5</text><text transform="translate(38.9,245.3) scale(1.651,1) rotate(-90)" font-size="26" text-anchor="middle">Ns</text><path d="M541.0,507.0 C541.0,504.3 542.6,502.5 544.8,502.5 C546.8,502.5 548.7,503.3 548.7,505.5 L548.7,515.6 L545.3,515.6 L545.3,505.8 C545.3,504.6 544.9,503.9 544.2,503.9 C543.0,503.9 542.1,505.0 541.8,507.0 Z M548.2,506.5 C549.6,503.7 552.2,502.0 555.2,502.0 C558.9,502.0 561.1,503.8 561.1,507.0 L561.1,521.3 L557.7,521.3 L557.7,507.2 C557.7,505.0 556.8,503.9 554.9,503.9 C552.4,503.9 550.2,505.6 548.7,508.2 Z"/></g>
<g><rect x="460.4" y="40.8" width="192.10000000000002" height="116.10000000000001" fill="#fff" stroke="#111" stroke-width="1.5"/><g transform="scale(1.543,1)"><path d="M305.90,54.30 H345.50" stroke="#ff0000" stroke-width="4.0" stroke-dasharray="7.9 7.9" fill="none"/><g fill="#ff0000"><path d="M325.73,45.03L333.64,58.93L317.82,58.93Z"/></g><path d="M305.90,76.50 H345.50" stroke="#00ffff" stroke-width="4.0" stroke-dasharray="7.9 7.9" fill="none"/><g fill="none" stroke="#00ffff" stroke-width="4.6"><circle cx="325.73" cy="76.50" r="4.0"/></g><path d="M305.90,98.70 H345.50" stroke="#00ff00" stroke-width="4.9" stroke-dasharray="7.9 7.9" fill="none"/><path d="M305.90,120.90 H345.50" stroke="#0000ff" stroke-width="4.0" stroke-dasharray="7.9 7.9" fill="none"/><path fill="none" stroke="#0000ff" stroke-width="4.2" d="M321.73,120.90H329.73M325.73,116.90V124.90"/><path d="M305.90,143.10 H345.50" stroke="#ff00ff" stroke-width="1.6" stroke-dasharray="7.9 7.9" fill="none"/><path fill="none" stroke="#ff00ff" stroke-width="2.0" d="M322.58,139.95h6.3v6.3h-6.3z"/></g><text transform="translate(0,60.70) scale(1.487,1)" font-size="13.8"><tspan x="362.81">B</tspan><tspan x="371.96">r</tspan><tspan x="376.26">Ω</tspan><tspan x="386.68" dy="-6.4" font-size="10.9">−</tspan></text><text transform="translate(0,61.90) scale(1.487,1)" font-size="13.8"><tspan x="402.69">=</tspan></text><use href="#one" transform="translate(585.0,54.30) scale(0.00791,-0.00532)"/><text transform="translate(616.70,60.70) scale(1.3829,1)" font-size="13.8">0</text><text transform="translate(627.71,60.70) scale(1.4870,1)" font-size="13.8">.</text><use href="#one" transform="translate(633.41,60.70) scale(0.01002,-0.00674)"/><text transform="translate(0,82.75) scale(1.487,1)" font-size="13.8"><tspan x="362.81">B</tspan><tspan x="371.96">r</tspan><tspan x="376.26">Ω</tspan><tspan x="386.68" dy="-6.4" font-size="10.9">−</tspan></text><text transform="translate(0,83.95) scale(1.487,1)" font-size="13.8"><tspan x="402.69">=</tspan></text><use href="#one" transform="translate(585.0,76.35) scale(0.00791,-0.00532)"/><text transform="translate(616.70,82.75) scale(1.3829,1)" font-size="13.8">0</text><text transform="translate(627.71,82.75) scale(1.4870,1)" font-size="13.8">.</text><text transform="translate(633.41,82.75) scale(1.4870,1)" font-size="13.8">2</text><text transform="translate(0,104.80) scale(1.487,1)" font-size="13.8"><tspan x="362.81">B</tspan><tspan x="371.96">r</tspan><tspan x="376.26">Ω</tspan><tspan x="386.68" dy="-6.4" font-size="10.9">−</tspan></text><text transform="translate(0,106.00) scale(1.487,1)" font-size="13.8"><tspan x="402.69">=</tspan></text><use href="#one" transform="translate(585.0,98.40) scale(0.00791,-0.00532)"/><text transform="translate(616.70,104.80) scale(1.3829,1)" font-size="13.8">0</text><text transform="translate(627.71,104.80) scale(1.4870,1)" font-size="13.8">.</text><text transform="translate(633.41,104.80) scale(1.4870,1)" font-size="13.8">4</text><text transform="translate(0,126.85) scale(1.487,1)" font-size="13.8"><tspan x="362.81">B</tspan><tspan x="371.96">r</tspan><tspan x="376.26">Ω</tspan><tspan x="386.68" dy="-6.4" font-size="10.9">−</tspan></text><text transform="translate(0,128.05) scale(1.487,1)" font-size="13.8"><tspan x="402.69">=</tspan></text><use href="#one" transform="translate(585.0,120.45) scale(0.00791,-0.00532)"/><text transform="translate(616.70,126.85) scale(1.3829,1)" font-size="13.8">0</text><text transform="translate(627.71,126.85) scale(1.4870,1)" font-size="13.8">.</text><text transform="translate(633.41,126.85) scale(1.4870,1)" font-size="13.8">6</text><text transform="translate(0,148.90) scale(1.487,1)" font-size="13.8"><tspan x="362.81">B</tspan><tspan x="371.96">r</tspan><tspan x="376.26">Ω</tspan><tspan x="386.68" dy="-6.4" font-size="10.9">−</tspan></text><text transform="translate(0,150.10) scale(1.487,1)" font-size="13.8"><tspan x="402.69">=</tspan></text><use href="#one" transform="translate(585.0,142.50) scale(0.00791,-0.00532)"/><text transform="translate(616.70,148.90) scale(1.3829,1)" font-size="13.8">0</text><text transform="translate(627.71,148.90) scale(1.4870,1)" font-size="13.8">.</text><text transform="translate(633.41,148.90) scale(1.4870,1)" font-size="13.8">8</text></g>
</svg></body></html>
